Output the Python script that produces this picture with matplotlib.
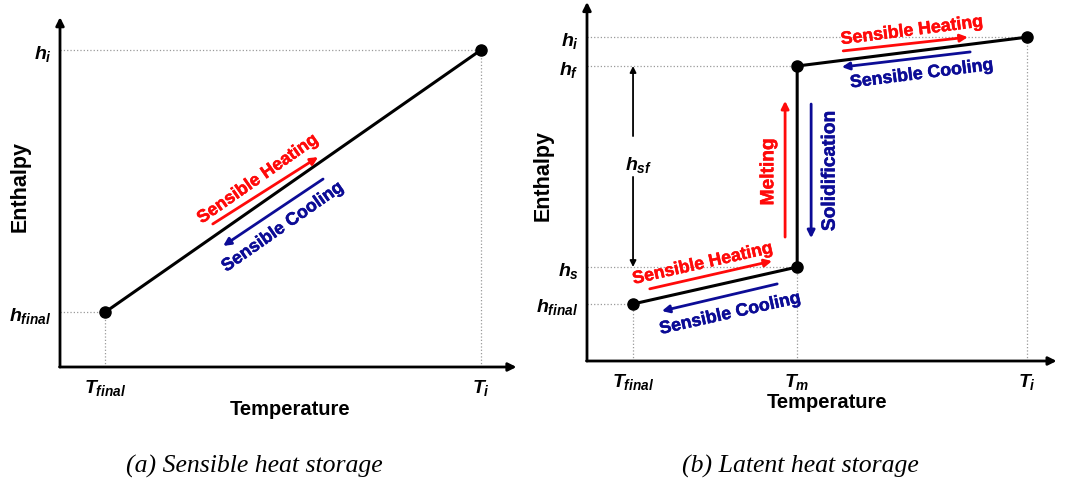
import matplotlib.pyplot as plt
import matplotlib.patheffects as pe

plt.rcParams['font.family'] = 'Liberation Sans'
plt.rcParams['mathtext.fontset'] = 'custom'
plt.rcParams['mathtext.it'] = 'Liberation Sans:bold:italic'
plt.rcParams['mathtext.rm'] = 'Liberation Sans:bold'
plt.rcParams['mathtext.bf'] = 'Liberation Sans:bold'

RED = '#ff0a0a'
BLUE = '#0c0c96'

# (a) sensible storage: state points
a_T = [1.0, 9.31]          # T_final, T_i
a_h = [1.60, 9.24]         # h_final, h_i
a_Tlabels = [r'$T_{final}$', r'$T_{i}$']
a_hlabels = [r'$h_{final}$', r'$h_{i}$']

# (b) latent storage: state points
b_T = [0.99, 4.52, 4.52, 9.46]      # T_final, T_m, T_m, T_i
b_h = [1.62, 2.67, 8.38, 9.20]      # h_final, h_s, h_f, h_i
b_Tticks = [0.99, 4.52, 9.46]
b_Tlabels = [r'$T_{final}$', r'$T_{m}$', r'$T_{i}$']
b_hticks = [1.62, 2.67, 8.38, 9.20]
b_hlabels = [r'$h_{final}$', r'$h_{s}$', r'$h_{f}$', r'$h_{i}$']

W, H = 1074, 481
fig = plt.figure(figsize=(W / 100, H / 100), dpi=100)


def make_axes(x0, x1, ybot, ytop):
    ax = fig.add_axes([x0 / W, 1 - ybot / H, (x1 - x0) / W, (ybot - ytop) / H])
    ax.set_xlim(0, 10)
    ax.set_ylim(0, 10)
    for s in ax.spines.values():
        s.set_visible(False)
    ax.tick_params(length=0, labelsize=14)
    ax.tick_params(axis='x', pad=7)
    ax.tick_params(axis='y', pad=6)
    # axes drawn as arrows
    kw = dict(arrowstyle='-|>', color='black', lw=2.0, mutation_scale=12,
              shrinkA=0, shrinkB=0)
    ax.annotate('', xy=(0, 10.2), xytext=(0, 0), arrowprops=kw, annotation_clip=False)
    ax.annotate('', xy=(10.1, 0), xytext=(-0.01, 0), arrowprops=kw, annotation_clip=False)
    return ax


def guide(ax, x, y, x0=0):
    ax.plot([x0, x], [y, y], ls=':', color='#9a9a9a', lw=0.9)
    ax.plot([x, x], [0, y], ls=':', color='#9a9a9a', lw=0.9)


def arrow(ax, start, end, color):
    ax.annotate('', xy=end, xytext=start,
                arrowprops=dict(arrowstyle='-|>', color=color, lw=2,
                                mutation_scale=11, shrinkA=0, shrinkB=0))


def label(ax, x, y, s, color, rot, size=12.8):
    ax.text(x, y, s, color=color, rotation=rot, rotation_mode='anchor',
            ha='center', va='center', fontsize=size, fontweight='bold',
            path_effects=[pe.withStroke(linewidth=0.35, foreground=color)])


# ---------- (a) Sensible heat storage ----------
ax1 = make_axes(60, 512, 368, 25)
guide(ax1, a_T[1], a_h[1])
guide(ax1, a_T[0], a_h[0])
ax1.plot(a_T, a_h, color='black', lw=2.2, marker='o', ms=8)
ax1.set_xticks(a_T, a_Tlabels)
ax1.set_yticks(a_h, a_hlabels)

arrow(ax1, (3.38, 4.17), (5.71, 6.12), RED)
arrow(ax1, (5.82, 5.48), (3.61, 3.53), BLUE)
label(ax1, 4.38, 5.48, 'Sensible Heating', RED, 35)
label(ax1, 4.93, 4.08, 'Sensible Cooling', BLUE, 35)

ax1.set_xlabel('Temperature', fontsize=14.5, fontweight='bold', va='center')
ax1.xaxis.set_label_coords(0.51, -0.122)
ax1.set_ylabel('Enthalpy', fontsize=15.5, fontweight='bold', va='center')
ax1.yaxis.set_label_coords(-0.088, 0.53)

# ---------- (b) Latent heat storage ----------
ax2 = make_axes(587, 1052, 362, 10)
guide(ax2, b_T[3], b_h[3])
guide(ax2, b_T[0], b_h[0])
guide(ax2, b_T[1], b_h[1])
ax2.plot([0, b_T[2]], [b_h[2], b_h[2]], ls=':', color='#9a9a9a', lw=0.9)
ax2.plot(b_T, b_h, color='black', lw=2.2)
ax2.plot(b_T, b_h, ls='none', marker='o', color='black', ms=8)
ax2.set_xticks(b_Tticks, b_Tlabels)
ax2.set_yticks(b_hticks, b_hlabels)

# latent enthalpy span h_sf
hk = dict(arrowstyle='-|>', color='black', lw=1.3, mutation_scale=9,
          shrinkA=0, shrinkB=0)
ax2.annotate('', xy=(b_T[0], b_h[2]), xytext=(b_T[0], 6.39), arrowprops=hk)
ax2.annotate('', xy=(b_T[0], b_h[1]), xytext=(b_T[0], 5.23), arrowprops=hk)
ax2.text(b_T[0] + 0.12, 5.60, r'$h_{sf}$', fontsize=14, ha='center', va='center')

# phase change arrows
arrow(ax2, (4.26, 3.52), (4.26, 7.39), RED)
arrow(ax2, (4.82, 7.30), (4.82, 3.49), BLUE)
label(ax2, 3.91, 5.37, 'Melting', RED, 90, 13.8)
label(ax2, 5.23, 5.40, 'Solidification', BLUE, 90, 13.8)

# liquid branch
arrow(ax2, (5.51, 8.81), (8.19, 9.20), RED)
arrow(ax2, (8.24, 8.78), (5.48, 8.35), BLUE)
label(ax2, 6.99, 9.38, 'Sensible Heating', RED, 7.2)
label(ax2, 7.20, 8.15, 'Sensible Cooling', BLUE, 7.2)

# solid branch
arrow(ax2, (1.35, 2.05), (3.98, 2.84), RED)
arrow(ax2, (4.09, 2.19), (1.61, 1.42), BLUE)
label(ax2, 2.49, 2.76, 'Sensible Heating', RED, 12.7)
label(ax2, 3.08, 1.34, 'Sensible Cooling', BLUE, 12.7)

ax2.set_xlabel('Temperature', fontsize=14.5, fontweight='bold', va='center')
ax2.xaxis.set_label_coords(0.516, -0.116)
ax2.set_ylabel('Enthalpy', fontsize=15.5, fontweight='bold', va='center')
ax2.yaxis.set_label_coords(-0.095, 0.53)

# captions
fig.text(254 / W, 1 - 466 / H, '(a) Sensible heat storage', family='Liberation Serif',
         style='italic', fontsize=18.5, ha='center', va='center')
fig.text(800 / W, 1 - 466 / H, '(b) Latent heat storage', family='Liberation Serif',
         style='italic', fontsize=18.5, ha='center', va='center')

fig.savefig('out.png', dpi=100)
